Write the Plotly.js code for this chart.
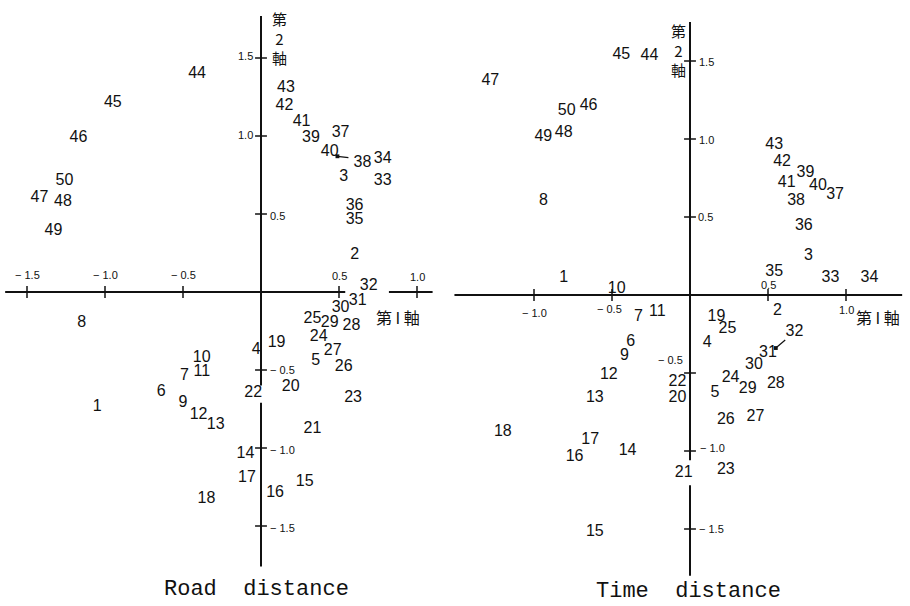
<!DOCTYPE html>
<html>
<head>
<meta charset="utf-8">
<script src="https://cdn.plot.ly/plotly-3.0.1.min.js"></script>
<style>html,body{margin:0;padding:0;background:#fff;}#chart{width:910px;height:606px;}</style>
</head>
<body>
<div id="chart"></div>
<script>
// ---------- data (point id = index + 1) ----------
var ids = [];
for (var i = 1; i <= 50; i++) ids.push(String(i));

// Road distance configuration (axis 1, axis 2)
var roadX = [-1.05, 0.60, 0.53, -0.03, 0.35, -0.64, -0.49, -1.15, -0.50, -0.38,
             -0.38, -0.40, -0.29, -0.10, 0.28, 0.09, -0.09, -0.35, 0.10, 0.19,
              0.33, -0.05, 0.59, 0.37, 0.33, 0.53, 0.46, 0.58, 0.44, 0.51,
              0.62, 0.69, 0.78, 0.78, 0.60, 0.60, 0.51, 0.65, 0.32, 0.44,
              0.26, 0.15, 0.16, -0.41, -0.95, -1.17, -1.42, -1.27, -1.33, -1.26];
var roadY = [-0.74, 0.24, 0.74, -0.37, -0.44, -0.64, -0.54, -0.20, -0.71, -0.42,
             -0.51, -0.79, -0.85, -1.04, -1.22, -1.29, -1.19, -1.33, -0.33, -0.61,
             -0.88, -0.65, -0.68, -0.29, -0.17, -0.48, -0.38, -0.22, -0.20, -0.10,
             -0.06, 0.04, 0.71, 0.85, 0.46, 0.55, 1.02, 0.83, 0.99, 0.90,
              1.09, 1.19, 1.31, 1.40, 1.21, 0.99, 0.60, 0.58, 0.39, 0.71];

// Time distance configuration
var timeX = [-0.81, 0.56, 0.76, 0.11, 0.16, -0.38, -0.33, -0.94, -0.42, -0.47,
             -0.21, -0.52, -0.61, -0.40, -0.61, -0.74, -0.64, -1.20, 0.17, -0.08,
             -0.04, -0.08, 0.23, 0.26, 0.24, 0.23, 0.42, 0.55, 0.37, 0.41,
              0.50, 0.67, 0.90, 1.15, 0.54, 0.73, 0.93, 0.68, 0.74, 0.82,
              0.62, 0.59, 0.54, -0.26, -0.44, -0.65, -1.28, -0.81, -0.94, -0.79];
var timeY = [0.11, -0.10, 0.25, -0.31, -0.63, -0.30, -0.14, 0.60, -0.39, 0.04,
             -0.11, -0.51, -0.66, -1.00, -1.52, -1.04, -0.93, -0.88, -0.14, -0.66,
             -1.14, -0.56, -1.12, -0.53, -0.22, -0.80, -0.78, -0.57, -0.60, -0.45,
             -0.37, -0.24, 0.11, 0.11, 0.15, 0.44, 0.64, 0.60, 0.78, 0.70,
              0.72, 0.85, 0.96, 1.53, 1.54, 1.21, 1.37, 1.04, 1.01, 1.18];

var tickVals  = [-1.5, -1.0, -0.5, 0.5, 1.0];
var tickTexts = ['\u2212 1.5', '\u2212 1.0', '\u2212 0.5', '0.5', '1.0'];
var yTickVals  = [1.5, 1.0, 0.5, -0.5, -1.0, -1.5];
var yTickTexts = ['1.5', '1.0', '0.5', '\u2212 0.5', '\u2212 1.0', '\u2212 1.5'];

var axis1Name = '第\u00a0I\u00a0軸';
var axis2Name = '第<br>2<br>軸';
var titles = ['Road\u00a0\u00a0distance', 'Time\u00a0\u00a0distance'];

// ---------- panel geometry/style ----------
var PX = 156; // pixels per unit
var W = 910, H = 606;
function dom(zero, lo, hi, total, flip) {
  if (flip) return [(total - (zero - lo * PX)) / total, (total - (zero - hi * PX)) / total];
  return [(zero + lo * PX) / total, (zero + hi * PX) / total];
}
var panels = [
  {xa: 'x', ya: 'y', xr: [-1.66, 1.14], yr: [-1.8, 1.85], x0: 261, y0: 292,
   xSeg: [[-1.64, 0.54], [0.82, 1.10]], ySeg: [[1.77, -0.60], [-0.71, -1.76]],
   xLab: [[0, 17, 'center'], [0, 17, 'center'], [0, 17, 'center'], [0, 16, 'center'], [0, 15, 'center']],
   yLab: [[-6, 2, 'right'], [-6, 1, 'right'], [7, -2, 'left'], [7, 0, 'left'], [7, -2, 'left'], [7, -2, 'left']],
   a1: [0.88, -0.16, 'center'], a2: [0, 1.63, 18],
   title: [256 / 910, (606 - 589) / 606]},
  {xa: 'x2', ya: 'y2', xr: [-1.52, 1.40], yr: [-1.82, 1.85], x0: 690, y0: 295,
   xSeg: [[-1.51, 1.36]], ySeg: [[1.75, -1.06], [-1.22, -1.80]],
   xLab: [[0, -18, 'center'], [-3, -14, 'center'], [0, 10, 'center'], [0, -15, 'center']],
   yLab: [[7, -1, 'left'], [7, -1, 'left'], [6, 0, 'left'], [-5, 13, 'right'], [8, 3, 'left'], [7, 0, 'left']],
   a1: [1.05, -0.14, 'left'], a2: [0, 1.57, -12],
   title: [688 / 910, (606 - 591) / 606]}
];

var dataX = [roadX, timeX], dataY = [roadY, timeY];
var traces = [], shapes = [], annotations = [];
var layout = {
  width: W, height: H, margin: {l: 0, r: 0, t: 0, b: 0},
  paper_bgcolor: '#fff', plot_bgcolor: 'rgba(0,0,0,0)', showlegend: false,
  font: {family: 'Liberation Sans, Arial, sans-serif', color: '#111'}
};

panels.forEach(function (p, k) {
  var xs = k === 0 ? 'xaxis' : 'xaxis2', ys = k === 0 ? 'yaxis' : 'yaxis2';
  layout[xs] = {range: p.xr, domain: dom(p.x0, p.xr[0], p.xr[1], W, false), visible: false, fixedrange: true, anchor: p.ya};
  layout[ys] = {range: p.yr, domain: dom(p.y0, p.yr[0], p.yr[1], H, true), visible: false, fixedrange: true, anchor: p.xa};

  traces.push({
    type: 'scatter', mode: 'text', x: dataX[k], y: dataY[k], text: ids,
    textposition: 'middle center', xaxis: p.xa, yaxis: p.ya, hoverinfo: 'text',
    textfont: {family: 'Liberation Sans, Arial, sans-serif', size: 16, color: '#111'}
  });

  var lineStyle = {color: '#111', width: 2};
  p.xSeg.forEach(function (s) {
    shapes.push({type: 'line', xref: p.xa, yref: p.ya, x0: s[0], x1: s[1], y0: 0, y1: 0, line: lineStyle});
  });
  p.ySeg.forEach(function (s) {
    shapes.push({type: 'line', xref: p.xa, yref: p.ya, x0: 0, x1: 0, y0: s[0], y1: s[1], line: lineStyle});
  });
  var tl = 0.038;
  var xt = k === 0 ? tickVals : tickVals.slice(1);
  var xtt = k === 0 ? tickTexts : tickTexts.slice(1);
  xt.forEach(function (v, j) {
    shapes.push({type: 'line', xref: p.xa, yref: p.ya, x0: v, x1: v, y0: -tl, y1: tl, line: {color: '#111', width: 1.5}});
    var o = p.xLab[j];
    annotations.push({xref: p.xa, yref: p.ya, x: v, y: 0, text: xtt[j], showarrow: false,
      xanchor: o[2], yanchor: 'middle', xshift: o[0], yshift: o[1],
      font: {size: 11, color: '#111', family: 'Liberation Sans, Arial, sans-serif'}});
  });
  yTickVals.forEach(function (v, j) {
    shapes.push({type: 'line', xref: p.xa, yref: p.ya, x0: -tl, x1: tl, y0: v, y1: v, line: {color: '#111', width: 1.5}});
    var o = p.yLab[j];
    annotations.push({xref: p.xa, yref: p.ya, x: 0, y: v, text: yTickTexts[j], showarrow: false,
      xanchor: o[2], yanchor: 'middle', xshift: o[0], yshift: o[1],
      font: {size: 11, color: '#111', family: 'Liberation Sans, Arial, sans-serif'}});
  });
  annotations.push({xref: p.xa, yref: p.ya, x: p.a1[0], y: p.a1[1], text: axis1Name, showarrow: false,
    xanchor: p.a1[2], yanchor: 'middle', font: {size: 16, color: '#111', family: 'Noto Sans CJK JP'}});
  annotations.push({xref: p.xa, yref: p.ya, x: p.a2[0], y: p.a2[1], text: axis2Name, showarrow: false,
    xanchor: 'center', yanchor: 'middle', xshift: p.a2[2], font: {size: 15, color: '#111', family: 'Noto Sans CJK JP'}});
  annotations.push({xref: 'paper', yref: 'paper', x: p.title[0], y: p.title[1], text: titles[k], showarrow: false,
    xanchor: 'center', yanchor: 'middle', borderpad: 0,
    font: {size: 22, color: '#111', family: 'Liberation Mono, Courier New, monospace'}});
});

// leader arrows (38 in road panel, 32 in time panel)
annotations.push({xref: 'x', yref: 'y', axref: 'x', ayref: 'y',
  x: roadX[37] - 0.16, y: roadY[37] + 0.04, ax: roadX[37] - 0.08, ay: roadY[37] + 0.03,
  text: '', showarrow: true, arrowhead: 7, arrowsize: 0.8, arrowwidth: 1.2, arrowcolor: '#111'});
annotations.push({xref: 'x2', yref: 'y2', axref: 'x2', ayref: 'y2',
  x: timeX[31] - 0.12, y: timeY[31] - 0.10, ax: timeX[31] - 0.05, ay: timeY[31] - 0.04,
  text: '', showarrow: true, arrowhead: 7, arrowsize: 0.8, arrowwidth: 1.2, arrowcolor: '#111'});

layout.shapes = shapes;
layout.annotations = annotations;
Plotly.newPlot('chart', traces, layout, {displayModeBar: false, staticPlot: true});
</script>
</body>
</html>
